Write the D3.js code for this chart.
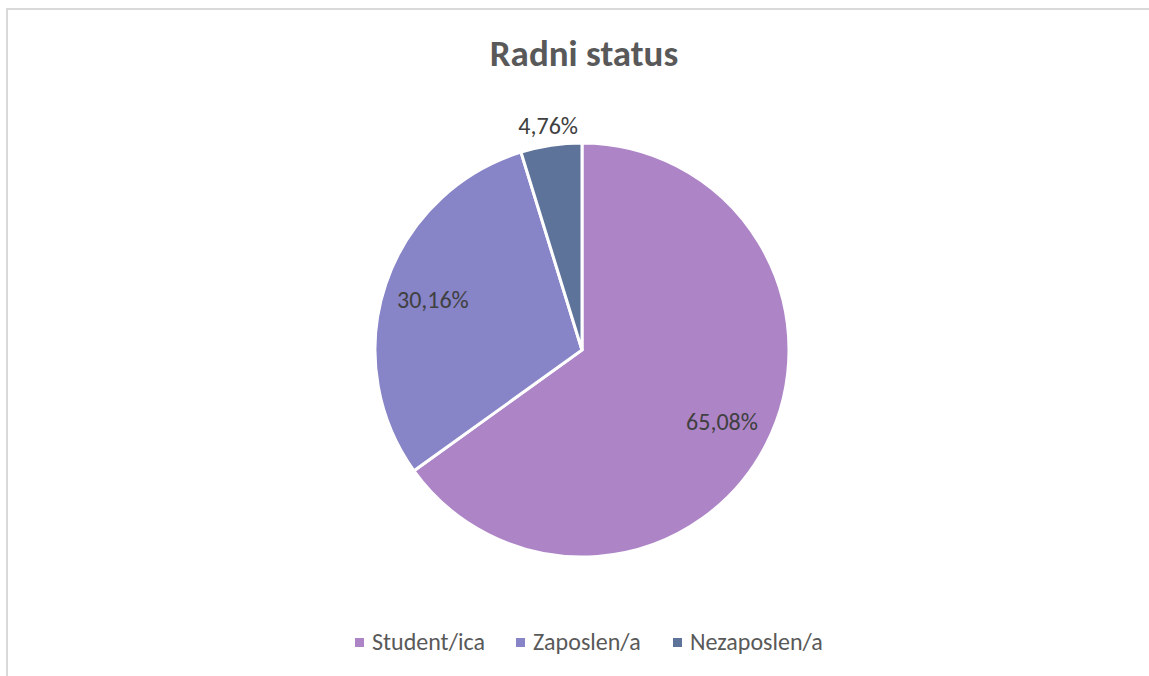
<!DOCTYPE html>
<meta charset="utf-8">
<head>
  <script src="https://d3js.org/d3.v7.min.js"></script>
  <style>
    body { margin: 0; background: #fff; }
    svg { display: block; }
    text { font-family: Carlito, Lato, "Open Sans", sans-serif; }
  </style>
</head>
<body>
  <div id="my_dataviz"></div>
  <script>

    // data
    var categories = ["Student/ica", "Zaposlen/a", "Nezaposlen/a"];
    var values = [65.08, 30.16, 4.76];
    var labels = ["65,08%", "30,16%", "4,76%"];
    var colors = ["#ad84c6", "#8784c7", "#5d739a"];

    var width = 1149, height = 676;
    var cx = 582, cy = 350, radius = 207;

    var svg = d3.select("#my_dataviz")
      .append("svg")
      .attr("width", width)
      .attr("height", height);

    // chart border
    svg.append("rect")
      .attr("x", 7)
      .attr("y", 9)
      .attr("width", width + 20)
      .attr("height", height + 20)
      .attr("fill", "none")
      .attr("stroke", "#d9d9d9")
      .attr("stroke-width", 2);

    // title
    svg.append("text")
      .attr("x", 584)
      .attr("y", 66)
      .attr("text-anchor", "middle")
      .style("font-size", "37px")
      .style("font-weight", "bold")
      .style("fill", "#595959")
      .text("Radni status");

    var pie = d3.pie().sort(null).value(function (d) { return d; });
    var arcs = pie(values);

    var arc = d3.arc().innerRadius(0).outerRadius(radius);

    var g = svg.append("g")
      .attr("transform", "translate(" + cx + "," + cy + ")");

    g.selectAll("path")
      .data(arcs)
      .enter()
      .append("path")
      .attr("d", arc)
      .attr("fill", function (d, i) { return colors[i]; })
      .attr("stroke", "#fff")
      .attr("stroke-width", 3)
      .attr("stroke-linejoin", "miter");

    // data labels: inside for big slices, outside for the small one
    var labelArc = function (i) {
      var r = values[i] < 10 ? radius + 20 : radius * 0.76;
      return d3.arc().innerRadius(r).outerRadius(r);
    };

    g.selectAll("text.lbl")
      .data(arcs)
      .enter()
      .append("text")
      .attr("class", "lbl")
      .attr("transform", function (d, i) { return "translate(" + labelArc(i).centroid(d) + ")"; })
      .attr("text-anchor", "middle")
      .attr("dy", "0.35em")
      .style("font-size", "24px")
      .style("fill", "#404040")
      .text(function (d, i) { return labels[i]; });

    // legend
    var legendX = [355, 516, 673];
    var legend = svg.selectAll("g.leg")
      .data(categories)
      .enter()
      .append("g")
      .attr("class", "leg")
      .attr("transform", function (d, i) { return "translate(" + legendX[i] + ",642)"; });

    legend.append("rect")
      .attr("x", 0)
      .attr("y", -4)
      .attr("width", 9)
      .attr("height", 9)
      .attr("fill", function (d, i) { return colors[i]; });

    legend.append("text")
      .attr("x", 17)
      .attr("dy", "0.35em")
      .style("font-size", "24px")
      .style("fill", "#595959")
      .text(function (d) { return d; });

  </script>
</body>
